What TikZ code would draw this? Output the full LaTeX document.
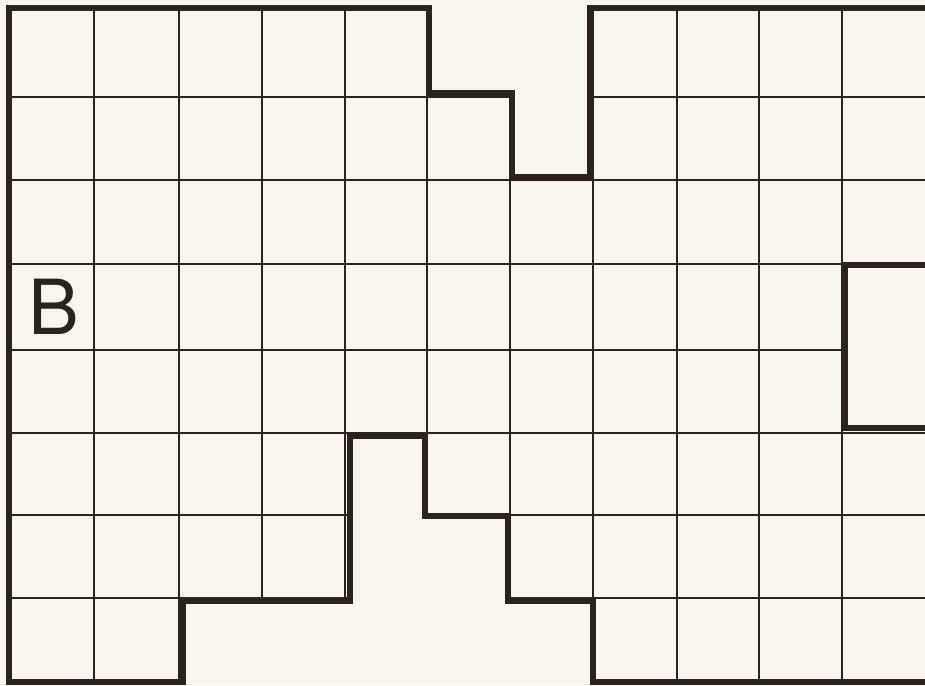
\documentclass[tikz,border=0pt]{standalone}
\usepackage{fontspec}
\setmainfont{TeX Gyre Heros}
\definecolor{paper}{HTML}{F8F5EF}
\definecolor{ink}{HTML}{2A2320}
\tikzset{
  gridline/.style={draw=ink, line width=1.8pt},
  outline/.style={draw=ink, line width=6pt, line join=miter, line cap=butt},
  letter/.style={inner sep=0pt, text=ink, font=\fontsize{76}{80}\selectfont}
}
\begin{document}
\begin{tikzpicture}[x=1pt,y=-1pt]
  \fill[paper] (0,0) rectangle (925,685);
  \useasboundingbox (0,0) rectangle (925,685);
  % grid clipped to the shape interior
  \begin{scope}
    \clip (9,8)--(429,8)--(429,93)--(512,93)--(512,177)--(590,177)--(590,8)--(925,8)
      --(925,265)--(845,265)--(845,428)--(925,428)--(925,682)--(593,682)--(593,601)
      --(508,601)--(508,516)--(425,516)--(425,436)--(350,436)--(350,601)--(183,601)
      --(183,682)--(9,682)--cycle;
    \foreach \x in {94,179,262,345,427,510,593,677,759,842}
      \draw[gridline] (\x,0) -- (\x,685);
    \foreach \y in {97,180,264,350,433,515,598}
      \draw[gridline] (0,\y) -- (925,\y);
  \end{scope}
  % thick outline
  \draw[outline] (925,8)--(590,8)--(590,177)--(512,177)--(512,93)--(429,93)--(429,8)
    --(9,8)--(9,682)--(183,682)--(183,601)--(350,601)--(350,436)--(425,436)
    --(425,516)--(508,516)--(508,601)--(593,601)--(593,682)--(925,682);
  \draw[outline] (925,265)--(845,265)--(845,428)--(925,428);
  \node[letter] (b) at (54,306.5) {B};
\end{tikzpicture}
\end{document}
